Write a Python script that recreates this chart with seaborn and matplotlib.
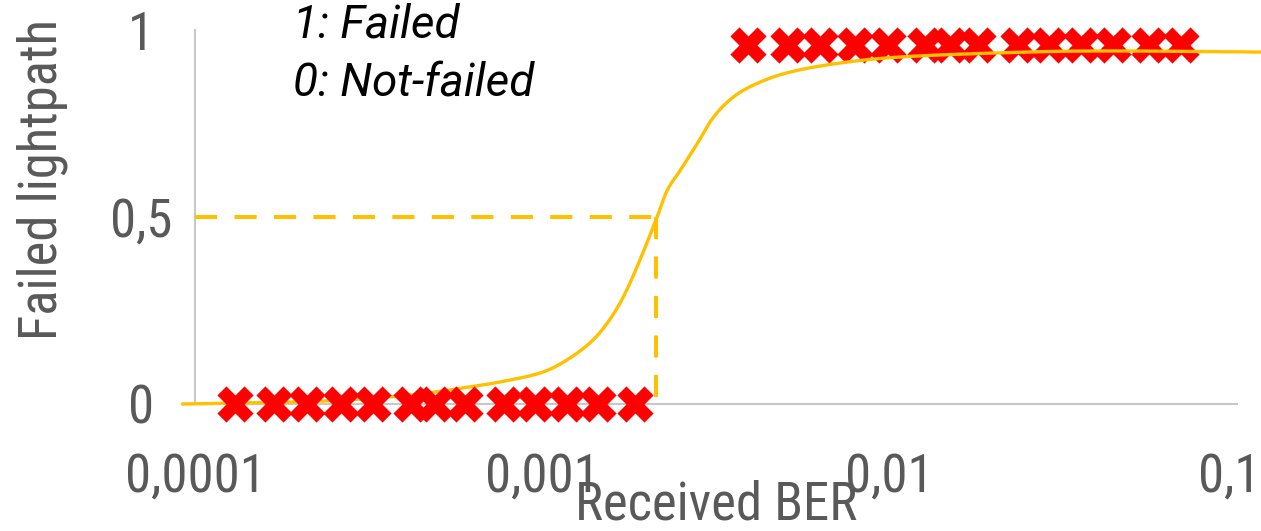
import numpy as np
import matplotlib
matplotlib.use("Agg")
import matplotlib.pyplot as plt
import matplotlib.transforms as mtransforms
from matplotlib.ticker import NullLocator, FixedLocator, FixedFormatter
import seaborn as sns

# ---------------- data ----------------
notfailed_ber = [1.30e-4, 1.69e-4, 2.10e-4, 2.63e-4, 3.26e-4, 4.19e-4, 4.92e-4,
                 6.00e-4, 7.77e-4, 9.55e-4, 1.18e-3, 1.45e-3, 1.85e-3]
notfailed_val = [0, 0, 0, 0, 0, 0, 0, 0, 0, 0, 0, 0, 0]

failed_ber = [3.90e-3, 5.08e-3, 6.32e-3, 7.93e-3, 9.87e-3, 1.26e-2, 1.49e-2,
              1.80e-2, 2.34e-2, 2.87e-2, 3.55e-2, 4.39e-2, 5.57e-2, 6.90e-2]
failed_val = [0.96, 0.96, 0.96, 0.96, 0.96, 0.96, 0.96,
              0.96, 0.96, 0.96, 0.96, 0.96, 0.96, 0.96]

curve_ber = [9.2e-5, 1.88e-4, 2.99e-4, 4.45e-4, 5.92e-4, 7.57e-4, 9.86e-4,
             1.164e-3, 1.37e-3, 1.54e-3, 1.71e-3, 1.91e-3, 2.14e-3, 2.29e-3,
             2.50e-3, 2.80e-3, 3.11e-3, 3.55e-3, 4.17e-3, 5.19e-3, 7.23e-3,
             1.08e-2, 2.09e-2, 4.06e-2, 0.118]
curve_prob = [0.000, 0.005, 0.013, 0.027, 0.043, 0.059, 0.083,
              0.115, 0.163, 0.217, 0.286, 0.385, 0.500, 0.572,
              0.626, 0.698, 0.767, 0.821, 0.858, 0.888, 0.912,
              0.928, 0.939, 0.944, 0.941]

threshold_ber = 2.12e-3
threshold_prob = 0.5

x_ticks = [1e-4, 1e-3, 1e-2, 1e-1]
x_tick_labels = ["0,0001", "0,001", "0,01", "0,1"]
y_ticks = [0, 0.5, 1]
y_tick_labels = ["0", "0,5", "1"]

legend_lines = ["1: Failed", "0: Not-failed"]


def smooth_line(xs, ys, n=16):
    """Excel-like smoothed line through the read points (Catmull-Rom in log-x)."""
    lx = np.log10(np.asarray(xs, float))
    y = np.asarray(ys, float)
    P = np.column_stack([lx, y])
    P = np.vstack([P[0], P, P[-1]])
    out = []
    t = np.linspace(0, 1, n, endpoint=False)[:, None]
    for i in range(1, len(P) - 2):
        p0, p1, p2, p3 = P[i - 1], P[i], P[i + 1], P[i + 2]
        seg = 0.5 * ((2 * p1) + (-p0 + p2) * t + (2 * p0 - 5 * p1 + 4 * p2 - p3) * t ** 2
                     + (-p0 + 3 * p1 - 3 * p2 + p3) * t ** 3)
        out.append(seg)
    out.append(P[-2][None, :])
    out = np.vstack(out)
    return 10 ** out[:, 0], out[:, 1]


# ---------------- style ----------------
sns.set_theme(style="white")
AXFONT = ["Roboto Condensed", "Liberation Sans Narrow", "DejaVu Sans Condensed", "Roboto", "DejaVu Sans"]
plt.rcParams["font.family"] = AXFONT

GOLD = "#FFC000"
RED = "#FF0000"
GREY_TXT = "#595959"
AXIS = "#C8C8C8"

fig = plt.figure(figsize=(12.61, 5.31), dpi=100)
ax = fig.add_axes([195 / 1261, 1 - 404 / 531, (1237 - 195) / 1261, (404 - 30) / 531])

# failed markers (below curve)
sns.scatterplot(x=failed_ber, y=failed_val, ax=ax, marker="X", s=680,
                color=RED, linewidth=0, clip_on=False, zorder=2)

# logistic fit curve (smoothed)
sx, sy = smooth_line(curve_ber, curve_prob)
sns.lineplot(x=sx, y=sy, ax=ax, color=GOLD, linewidth=2.4,
             sort=False, estimator=None, zorder=3)
ax.lines[-1].set_clip_on(False)

# not-failed markers (above curve)
sns.scatterplot(x=notfailed_ber, y=notfailed_val, ax=ax, marker="X", s=680,
                color=RED, linewidth=0, clip_on=False, zorder=4)

# threshold dashed guides
ax.plot([x_ticks[0], threshold_ber], [threshold_prob, threshold_prob],
        color=GOLD, linewidth=2.9, dashes=(5.5, 4.3),
        dash_capstyle="butt", clip_on=False, zorder=3)
ax.plot([threshold_ber, threshold_ber], [threshold_prob, y_ticks[0] - 0.018],
        color=GOLD, linewidth=2.9, dashes=(5.5, 4.3), dash_capstyle="butt",
        clip_on=False, zorder=3)

ax.set_xscale("log")
ax.set_xlim(x_ticks[0], x_ticks[-1])
ax.set_ylim(y_ticks[0], y_ticks[-1])

ax.xaxis.set_major_locator(FixedLocator(x_ticks))
ax.xaxis.set_major_formatter(FixedFormatter(x_tick_labels))
ax.xaxis.set_minor_locator(NullLocator())
ax.yaxis.set_major_locator(FixedLocator(y_ticks))
ax.yaxis.set_major_formatter(FixedFormatter(y_tick_labels))

ax.tick_params(axis="x", length=0, pad=34, labelsize=38, labelcolor=GREY_TXT)
ax.tick_params(axis="y", length=0, pad=54 * 72 / 100, labelsize=38, labelcolor=GREY_TXT)
for lbl in ax.get_yticklabels():
    lbl.set_horizontalalignment("center")

# keep the last x tick label just inside the right edge
last = ax.get_xticklabels()[-1]
last.set_transform(last.get_transform() +
                   mtransforms.ScaledTranslation(-8 / 100, 0, fig.dpi_scale_trans))

for side in ["top", "right"]:
    ax.spines[side].set_visible(False)
for side in ["left", "bottom"]:
    ax.spines[side].set_color(AXIS)
    ax.spines[side].set_linewidth(1.5)
    ax.spines[side].set_zorder(1)
ax.grid(False)

ax.set_xlabel("Received BER", fontsize=38, color=GREY_TXT)
ax.xaxis.label.set_verticalalignment("bottom")
ax.xaxis.set_label_coords(0.5, (404 - 530) / 374)
ax.set_ylabel("Failed lightpath", fontsize=38, color=GREY_TXT)
ax.yaxis.label.set_verticalalignment("center")
ax.yaxis.set_label_coords((42 - 195) / 1042, (404 - 180) / 374)

ax.text((293 - 195) / 1042, (404 - 25) / 374, legend_lines[0], transform=ax.transAxes,
        fontsize=33, style="italic", color="black", ha="left", va="center",
        family=["Roboto", "DejaVu Sans"], clip_on=False)
ax.text((293 - 195) / 1042, (404 - 83) / 374, legend_lines[1], transform=ax.transAxes,
        fontsize=33, style="italic", color="black", ha="left", va="center",
        family=["Roboto", "DejaVu Sans"], clip_on=False)

fig.savefig("out.png", dpi=100)
